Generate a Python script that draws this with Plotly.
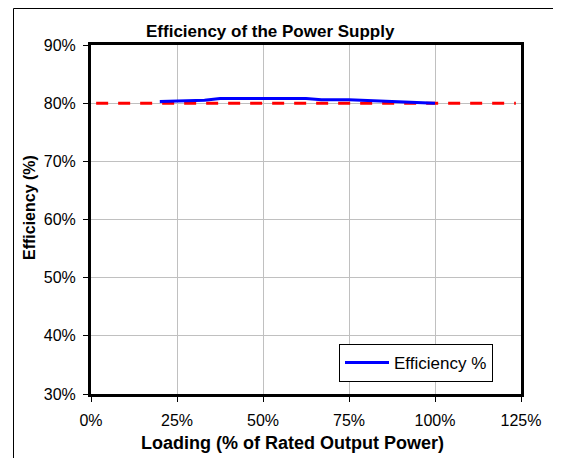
import plotly.graph_objects as go

loading = [0.20, 0.33, 0.375, 0.50, 0.625, 0.67, 0.75, 0.875, 1.00]
efficiency = [0.803, 0.805, 0.808, 0.808, 0.808, 0.806, 0.806, 0.803, 0.800]
target_x = [0.015, 1.235]
target_y = [0.80, 0.80]
x_ticks = [0, 0.25, 0.5, 0.75, 1.0, 1.25]
y_ticks = [0.3, 0.4, 0.5, 0.6, 0.7, 0.8, 0.9]

FONT = "Liberation Sans, Arial, sans-serif"

fig = go.Figure()
fig.add_trace(go.Scatter(x=target_x, y=target_y, mode="lines",
                         line=dict(color="#FF0000", width=3, dash="12px,10px"),
                         showlegend=False, hoverinfo="skip"))
fig.add_trace(go.Scatter(x=loading, y=efficiency, mode="lines",
                         name="Efficiency %",
                         line=dict(color="#0000FF", width=3)))

# page body has an 8px default margin; work in absolute page pixels
OFF = 8
W, H = 561 - OFF, 458 - OFF
L = 91 - OFF
T = 45 - OFF
R = W - (521 - OFF)
B = H - (394 - OFF)
pw, ph = W - L - R, H - T - B

def px(xa):
    return (xa - OFF - L) / pw

def py(ya):
    return (H - B - (ya - OFF)) / ph

fig.update_layout(
    width=W, height=H,
    margin=dict(l=L, r=R, t=T, b=B, autoexpand=False),
    paper_bgcolor="white", plot_bgcolor="white",
    font=dict(family=FONT, size=16, color="black"),
    showlegend=True,
    legend=dict(x=px(339), y=py(344), xanchor="left", yanchor="top",
                bordercolor="black", borderwidth=1, bgcolor="white",
                font=dict(size=17), itemwidth=44),
    xaxis=dict(range=[0, 1.25], tickvals=x_ticks, tickformat=".0%",
               showgrid=True, gridcolor="#C0C0C0", gridwidth=1,
               showline=True, linecolor="black", linewidth=3, mirror=True,
               ticks="outside", ticklen=5, tickcolor="black", tickwidth=1,
               zeroline=False, tickfont=dict(size=16), ticklabelstandoff=5),
    yaxis=dict(range=[0.3, 0.9], tickvals=y_ticks, tickformat=".0%",
               showgrid=True, gridcolor="#C0C0C0", gridwidth=1,
               showline=True, linecolor="black", linewidth=3, mirror=True,
               ticks="outside", ticklen=5, tickcolor="black", tickwidth=1,
               zeroline=False, tickfont=dict(size=16), ticklabelstandoff=4),
    annotations=[
        dict(text="<b>Efficiency of the Power Supply</b>", x=px(270), y=py(31),
             xref="paper", yref="paper", showarrow=False,
             font=dict(size=17), xanchor="center", yanchor="middle"),
        dict(text="<b>Loading (% of Rated Output Power)</b>", x=px(292), y=py(443),
             xref="paper", yref="paper", showarrow=False,
             font=dict(size=18), xanchor="center", yanchor="middle"),
        dict(text="<b>Efficiency (%)</b>", x=px(29), y=py(207),
             xref="paper", yref="paper", showarrow=False, textangle=-90,
             font=dict(size=16), xanchor="center", yanchor="middle"),
    ],
    shapes=[
        dict(type="line", xref="paper", yref="paper",
             x0=px(13.5), x1=px(13.5), y0=py(8.5), y1=py(470),
             line=dict(color="black", width=1)),
        dict(type="line", xref="paper", yref="paper",
             x0=px(13.5), x1=px(570), y0=py(8.5), y1=py(8.5),
             line=dict(color="black", width=1)),
    ],
)

fig.write_html("out.html")
